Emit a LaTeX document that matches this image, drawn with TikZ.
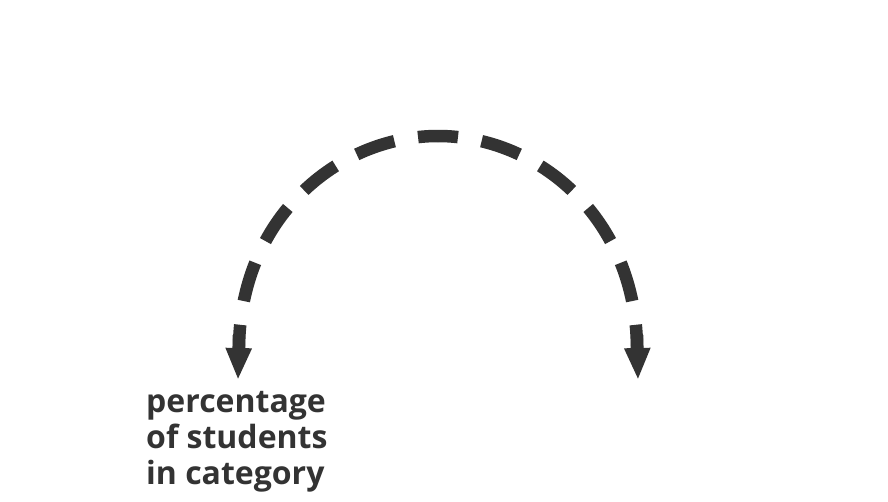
\documentclass[tikz,border=0pt]{standalone}
\usepackage{fontspec}
\setmainfont{Open Sans}
\usetikzlibrary{arrows.meta}
\definecolor{ink}{HTML}{333333}
\begin{document}
\begin{tikzpicture}[x=1pt,y=-1pt,
  arcdash/.style={draw=ink, line width=12.5pt, dash pattern=on 40pt off 24pt, dash phase=20pt},
  tiparrow/.style={draw=ink, line width=12.5pt, -{Triangle[length=32pt,width=24pt]}},
  captext/.style={font=\bfseries\fontsize{32}{36}\selectfont, text=ink, align=left, inner sep=0pt}]
\useasboundingbox (0,0) rectangle (888,501);
\coordinate (top) at (438,136);
\coordinate (lend) at (239,350);
\coordinate (rend) at (637,350);
\coordinate (lbase) at (239,335);
\coordinate (rbase) at (637,335);
\coordinate (ltip) at (238,380);
\coordinate (rtip) at (638,380);
\draw[arcdash] (top) .. controls (338,136) and (239,218) .. (lend);
\draw[arcdash] (top) .. controls (538,136) and (637,218) .. (rend);
\draw[tiparrow] (lbase) -- (ltip);
\draw[tiparrow] (rbase) -- (rtip);
\node[captext, anchor=base west] (cap) at (146,484) {percentage\\of students\\in category};
\end{tikzpicture}
\end{document}
